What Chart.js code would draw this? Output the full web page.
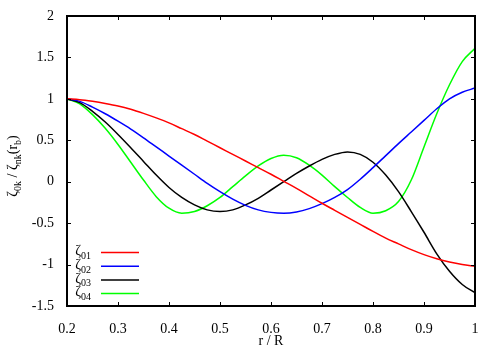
<!DOCTYPE html>
<html>
<head>
<meta charset="utf-8">
<script src="https://cdn.jsdelivr.net/npm/chart.js@4"></script>
<style>
  body { margin: 0; background: #fff; }
  #wrap { width: 500px; height: 350px; }
</style>
</head>
<body>
<div id="wrap"><canvas id="modeChart" width="500" height="350"></canvas></div>
<script>
// r / R sample positions and the four mode shapes
const radius = [0.2, 0.225, 0.25, 0.275, 0.3, 0.325, 0.35, 0.375, 0.4, 0.425, 0.45, 0.475, 0.5, 0.525, 0.55, 0.575,
                0.6, 0.625, 0.65, 0.675, 0.7, 0.725, 0.75, 0.775, 0.8, 0.825, 0.85, 0.875, 0.9, 0.925, 0.95, 0.975, 1.0];
const zeta01 = [1.00, 0.99, 0.97, 0.945, 0.915, 0.875, 0.825, 0.77, 0.71, 0.64, 0.57, 0.49, 0.41, 0.33, 0.25, 0.17,
                0.09, 0.005, -0.08, -0.17, -0.26, -0.345, -0.43, -0.515, -0.60, -0.68, -0.75, -0.82, -0.88, -0.93, -0.97, -1.00, -1.02];
const zeta02 = [1.00, 0.97, 0.90, 0.82, 0.73, 0.635, 0.53, 0.42, 0.31, 0.20, 0.09, -0.02, -0.12, -0.21, -0.285, -0.34,
                -0.37, -0.38, -0.365, -0.325, -0.265, -0.19, -0.095, 0.03, 0.17, 0.315, 0.46, 0.60, 0.74, 0.88, 1.00, 1.08, 1.13];
const zeta03 = [1.00, 0.955, 0.85, 0.72, 0.57, 0.41, 0.245, 0.08, -0.07, -0.19, -0.28, -0.34, -0.36, -0.34, -0.28, -0.20,
                -0.10, 0.00, 0.10, 0.19, 0.27, 0.33, 0.36, 0.33, 0.235, 0.08, -0.12, -0.36, -0.61, -0.87, -1.08, -1.24, -1.34];
const zeta04 = [1.00, 0.94, 0.81, 0.645, 0.45, 0.235, 0.02, -0.18, -0.32, -0.38, -0.36, -0.29, -0.19, -0.06, 0.07, 0.19,
                0.28, 0.32, 0.29, 0.20, 0.08, -0.06, -0.19, -0.31, -0.38, -0.35, -0.24, 0.02, 0.42, 0.82, 1.17, 1.45, 1.61];

const modeNames = ['01', '02', '03', '04'];
const modeColors = ['#ff0000', '#0000ff', '#000000', '#00ff00'];
const modeValues = [zeta01, zeta02, zeta03, zeta04];

const serif = 'Liberation Serif';
Chart.defaults.font.family = serif;
Chart.defaults.color = '#000';

const datasets = modeValues.map((vals, i) => ({
    label: 'ζ' + modeNames[i],
    data: vals.map((v, j) => ({ x: radius[j], y: v })),
    borderColor: modeColors[i],
    borderWidth: 1.5,
    pointRadius: 0,
    cubicInterpolationMode: 'monotone',
    fill: false
}));

// draws the frame, inward ticks, the key and the y title with subscripts
const gnuplotLook = {
    id: 'gnuplotLook',
    afterDraw(chart) {
        const ctx = chart.ctx;
        const area = chart.chartArea;
        const xs = chart.scales.x;
        const ys = chart.scales.y;
        ctx.save();

        ctx.strokeStyle = '#000';
        ctx.lineWidth = 1;
        ctx.beginPath();
        xs.ticks.forEach(t => {
            const px = Math.round(xs.getPixelForValue(t.value)) + 0.5;
            ctx.moveTo(px, area.bottom); ctx.lineTo(px, area.bottom - 4);
            ctx.moveTo(px, area.top); ctx.lineTo(px, area.top + 4);
        });
        ys.ticks.forEach(t => {
            const py = Math.round(ys.getPixelForValue(t.value)) + 0.5;
            ctx.moveTo(area.left, py); ctx.lineTo(area.left + 4, py);
            ctx.moveTo(area.right, py); ctx.lineTo(area.right - 4, py);
        });
        ctx.stroke();

        ctx.lineWidth = 2;
        ctx.strokeRect(area.left, area.top, area.right - area.left, area.bottom - area.top);

        // key, bottom left inside the plot
        const n = chart.data.datasets.length;
        chart.data.datasets.forEach((ds, i) => {
            const y = area.bottom - 12.4 - 13.7 * (n - 1 - i);
            ctx.strokeStyle = ds.borderColor;
            ctx.lineWidth = 1.5;
            ctx.beginPath();
            ctx.moveTo(area.left + 34, y);
            ctx.lineTo(area.left + 72, y);
            ctx.stroke();

            const main = ds.label.charAt(0);
            const sub = ds.label.slice(1);
            ctx.fillStyle = '#000';
            ctx.textBaseline = 'alphabetic';
            ctx.textAlign = 'left';
            ctx.font = '10px ' + serif;
            const wSub = ctx.measureText(sub).width;
            ctx.font = '14px ' + serif;
            const wMain = ctx.measureText(main).width;
            const right = area.left + 24;
            ctx.fillText(main, right - wSub - wMain, y + 2.7);
            ctx.font = '10px ' + serif;
            ctx.fillText(sub, right - wSub, y + 6.4);
        });

        // y axis title
        const pieces = [
            ['ζ', false], ['0k', true], [' / ', false], ['ζ', false],
            ['nk', true], ['(r', false], ['b', true], [')', false]
        ];
        const fontFor = s => (s ? '10px ' : '14px ') + serif;
        let total = 0;
        pieces.forEach(p => { ctx.font = fontFor(p[1]); total += ctx.measureText(p[0]).width; });
        ctx.translate(17, (area.top + area.bottom) / 2 + 5);
        ctx.rotate(-Math.PI / 2);
        ctx.fillStyle = '#000';
        ctx.textAlign = 'left';
        ctx.textBaseline = 'alphabetic';
        let cx = -total / 2;
        pieces.forEach(p => {
            ctx.font = fontFor(p[1]);
            ctx.fillText(p[0], cx, p[1] ? 4 : 0);
            cx += ctx.measureText(p[0]).width;
        });

        ctx.restore();
    }
};

new Chart(document.getElementById('modeChart'), {
    type: 'line',
    data: { datasets: datasets },
    options: {
        responsive: false,
        animation: false,
        layout: { padding: { top: 16, right: 25, left: 0, bottom: 0 } },
        plugins: {
            legend: { display: false },
            tooltip: { enabled: false }
        },
        scales: {
            x: {
                type: 'linear',
                min: 0.2,
                max: 1,
                grid: { display: false },
                border: { display: false },
                ticks: {
                    stepSize: 0.1,
                    padding: 7,
                    maxRotation: 0,
                    font: { size: 14 },
                    callback: v => String(Math.round(v * 10) / 10)
                },
                title: {
                    display: true,
                    text: 'r / R',
                    font: { size: 14 },
                    padding: { top: 0, bottom: 0 }
                },
                afterFit: s => { s.height = 44; }
            },
            y: {
                min: -1.5,
                max: 2,
                grid: { display: false },
                border: { display: false },
                ticks: {
                    stepSize: 0.5,
                    padding: 5,
                    font: { size: 14 },
                    callback: v => String(Math.round(v * 10) / 10)
                },
                afterFit: s => { s.width = 67; }
            }
        }
    },
    plugins: [gnuplotLook]
});
</script>
</body>
</html>
